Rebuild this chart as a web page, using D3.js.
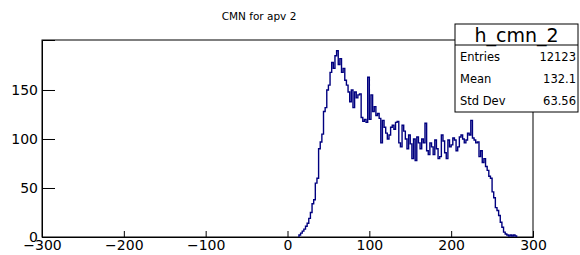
<!DOCTYPE html>
<html>
<head>
<meta charset="utf-8">
<script src="https://cdnjs.cloudflare.com/ajax/libs/d3/7.8.5/d3.min.js"></script>
<style>
  body { margin: 0; background: #fff; }
  svg { display: block; font-family: "DejaVu Sans", sans-serif; }
</style>
</head>
<body>
<div id="graph"></div>
<script>
// histogram h_cmn_2 : bins of width 2, first bin low edge = binStart
var binStart = 14;
var binWidth = 2;
var counts = [
  2, 4, 6, 8, 11, 14, 19, 25, 34, 38,
  55, 60, 90, 97, 105, 128, 132, 150, 155, 168,
  178, 172, 185, 190, 176, 182, 168, 172, 160, 155,
  148, 138, 150, 132, 148, 142, 145, 146, 122, 118,
  120, 117, 163, 120, 145, 128, 133, 124, 126, 121,
  96, 119, 112, 106, 100, 104, 112, 114, 110, 117,
  118, 96, 92, 114, 108, 100, 90, 104, 95, 80,
  100, 78, 102, 96, 90, 100, 96, 116, 88, 84,
  96, 92, 84, 99, 90, 80, 82, 104, 98, 86,
  80, 99, 92, 94, 101, 99, 88, 92, 102, 104,
  100, 96, 99, 106, 104, 119, 101, 99, 96, 97,
  82, 88, 76, 80, 72, 68, 62, 60, 46, 40,
  30, 27, 22, 15, 10, 5, 3, 2, 1, 2,
  1, 2, 1
];

var xMajor = [-300, -200, -100, 0, 100, 200, 300];
var xMinor = d3.range(-300, 301, 20);
var yMajor = [0, 50, 100, 150];
var yMinor = d3.range(0, 201, 10);

var title = 'CMN for apv 2';
var statName = 'h_cmn_2';
var statLabels = ['Entries', 'Mean', 'Std Dev'];
var statValues = ['12123', '132.1', '63.56'];

var W = 580, H = 255;
var frame = { left: 42, right: 533, top: 40, bottom: 237 };

var svg = d3.select('#graph')
  .append('svg')
  .attr('width', W)
  .attr('height', H);

var x = d3.scaleLinear().domain([-300, 300]).range([frame.left, frame.right]);
var y = d3.scaleLinear().domain([0, 201]).range([frame.bottom, frame.top]);

// title
svg.append('text')
  .attr('x', 259)
  .attr('y', 20)
  .attr('text-anchor', 'middle')
  .style('font-size', '10.5px')
  .text(title);

// frame box
svg.append('rect')
  .attr('x', frame.left)
  .attr('y', frame.top)
  .attr('width', frame.right - frame.left)
  .attr('height', frame.bottom - frame.top)
  .attr('fill', 'none')
  .attr('stroke', '#000')
  .attr('stroke-width', 1);

// histogram outline
var pts = [[binStart, 0]];
counts.forEach(function(c, i) {
  pts.push([binStart + i * binWidth, c]);
});
pts.push([binStart + counts.length * binWidth, 0]);

var line = d3.line()
  .x(function(d) { return x(d[0]); })
  .y(function(d) { return y(d[1]); })
  .curve(d3.curveStepAfter);

svg.append('path')
  .datum(pts)
  .attr('d', line)
  .attr('fill', 'none')
  .attr('stroke', '#00007f')
  .attr('stroke-width', 1.4);

// x axis (ticks pointing inward)
var gx = svg.append('g').attr('transform', 'translate(0,' + frame.bottom + ')');
gx.call(d3.axisBottom(x).tickValues(xMinor).tickSize(-3).tickFormat(''));
gx.call(d3.axisBottom(x).tickValues(xMajor).tickSize(-6).tickPadding(3));
gx.selectAll('.domain').attr('stroke', '#000');
gx.selectAll('text').style('font-size', '14px').attr('fill', '#000').style('font-family', '"DejaVu Sans", sans-serif');

// y axis
var gy = svg.append('g').attr('transform', 'translate(' + frame.left + ',0)');
gy.call(d3.axisLeft(y).tickValues(yMinor).tickSize(-6.5).tickFormat(''));
gy.call(d3.axisLeft(y).tickValues(yMajor).tickSize(-13).tickPadding(4));
gy.selectAll('text').style('font-size', '14px').attr('fill', '#000').style('font-family', '"DejaVu Sans", sans-serif');

// stats box
var box = { x: 455, y: 24, w: 123, head: 21, row: 22 };
var gs = svg.append('g');
gs.append('rect')
  .attr('x', box.x)
  .attr('y', box.y)
  .attr('width', box.w)
  .attr('height', box.head + box.row * statLabels.length + 1)
  .attr('fill', '#fff')
  .attr('stroke', '#000');
gs.append('line')
  .attr('x1', box.x).attr('x2', box.x + box.w)
  .attr('y1', box.y + box.head).attr('y2', box.y + box.head)
  .attr('stroke', '#000');
gs.append('text')
  .attr('x', box.x + box.w / 2)
  .attr('y', box.y + box.head - 3)
  .attr('text-anchor', 'middle')
  .style('font-size', '19px')
  .text(statName);
statLabels.forEach(function(lab, i) {
  var ty = box.y + box.head + box.row * i + 16;
  gs.append('text')
    .attr('x', box.x + 5)
    .attr('y', ty)
    .style('font-size', '11.5px')
    .text(lab);
  gs.append('text')
    .attr('x', box.x + box.w - 2)
    .attr('y', ty)
    .attr('text-anchor', 'end')
    .style('font-size', '11.5px')
    .text(statValues[i]);
});
</script>
</body>
</html>
